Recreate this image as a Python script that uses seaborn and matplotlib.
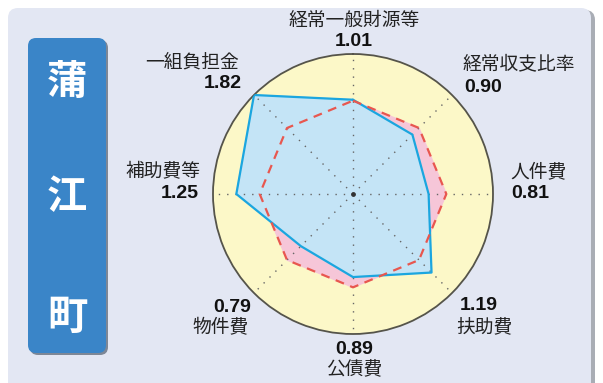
import matplotlib
matplotlib.use('Agg')
from matplotlib import pyplot as plt
from matplotlib.patches import FancyBboxPatch
import numpy as np
import pandas as pd
import seaborn as sns

town = '蒲江町'
categories = ['経常一般財源等', '経常収支比率', '人件費', '扶助費', '公債費', '物件費', '補助費等', '一組負担金']
town_values = [1.01, 0.90, 0.81, 1.19, 0.89, 0.79, 1.25, 1.82]
average_values = [1.0, 1.0, 1.0, 1.0, 1.0, 1.0, 1.0, 1.0]
r_max = 1.5  # outer ring of the chart, bigger values sit on the ring

# label placement in pixels (name x, name y, value x, value y, align)
label_pos = [
    (354, 20, 354, 42, 'center'),
    (463, 64, 464, 87, 'left'),
    (510, 172, 511, 194, 'left'),
    (456, 328, 460, 306, 'left'),
    (354, 370, 354, 350, 'center'),
    (249, 328, 251, 307, 'right'),
    (200, 172, 199, 194, 'right'),
    (239, 62, 242, 84, 'right'),
]

W, H = 603, 383
sns.set_theme(style='white')
plt.rcParams['font.family'] = ['Noto Sans CJK JP', 'DejaVu Sans']

fig = plt.figure(figsize=(W / 100, H / 100), dpi=100)
fig.patch.set_facecolor('white')

def px(x, y):
    return x / W, 1 - y / H

# background panel with a soft shadow
fig.patches.append(FancyBboxPatch((10, -20), 585, 393, boxstyle='round,pad=0,rounding_size=10',
                                  transform=None, facecolor='#a9adb5', edgecolor='none', zorder=-5))
fig.patches.append(FancyBboxPatch((8, -18), 583, 393, boxstyle='round,pad=0,rounding_size=10',
                                  transform=None, facecolor='#e3e7f3', edgecolor='none', zorder=-4))

# blue name box
fig.patches.append(FancyBboxPatch((30, H - 355), 78, 315, boxstyle='round,pad=0,rounding_size=8',
                                  transform=None, facecolor='#7d8796', edgecolor='none', zorder=-3))
fig.patches.append(FancyBboxPatch((28, H - 353), 78, 315, boxstyle='round,pad=0,rounding_size=8',
                                  transform=None, facecolor='#3a85c8', edgecolor='none', zorder=-2))
for ch, yy in zip(town, [83, 198, 317]):
    fig.text(*px(67, yy), ch, color='white', fontsize=29, fontweight='bold',
             ha='center', va='center', zorder=5)

# radar
cx, cy, rad = 353, 194, 140
ax = fig.add_axes([(cx - rad) / W, (H - cy - rad) / H, 2 * rad / W, 2 * rad / H], projection='polar')
ax.set_zorder(2)
ax.set_theta_zero_location('N')
ax.set_theta_direction(-1)

n = len(categories)
theta = np.linspace(0, 2 * np.pi, n, endpoint=False)
df = pd.DataFrame({
    'theta': np.append(theta, theta[0] + 2 * np.pi),
    'town': np.minimum(np.append(town_values, town_values[0]), r_max),
    'avg': np.append(average_values, average_values[0]),
})

ax.set_facecolor('#fcf8c8')
ax.fill(df['theta'], df['avg'], color='#f6c6d8', zorder=1)
ax.fill(df['theta'], df['town'], color='#c4e4f6', zorder=1.5)
sns.lineplot(data=df, x='theta', y='town', sort=False, estimator=None, color='#1ba6df',
             lw=1.6, ax=ax, zorder=4)
sns.lineplot(data=df, x='theta', y='avg', sort=False, estimator=None, color='#e8574f',
             lw=1.6, ax=ax, zorder=5, linestyle=(0, (4, 3)))
ax.scatter([0], [0], s=6, color='#333333', zorder=6)

ax.set_ylim(0, r_max)
ax.set_xticks(theta)
ax.set_xticklabels([])
ax.set_yticks([])
ax.set_xlabel('')
ax.set_ylabel('')
ax.set_axisbelow(False)
ax.grid(True, axis='x', color='#666666', linestyle=(0, (1, 5)), lw=1)
ax.spines['polar'].set_color('#55544a')
ax.spines['polar'].set_linewidth(1.3)

for name, val, (nx, ny, vx, vy, ha) in zip(categories, town_values, label_pos):
    fig.text(*px(nx, ny), name, fontsize=13.5, ha=ha, va='center', color='#222222', zorder=5)
    fig.text(*px(vx, vy), f'{val:.2f}', fontsize=14, fontweight='bold', ha=ha, va='center',
             color='#111111', family=['Liberation Sans', 'DejaVu Sans'], zorder=5)

fig.savefig('out.png', dpi=100)
